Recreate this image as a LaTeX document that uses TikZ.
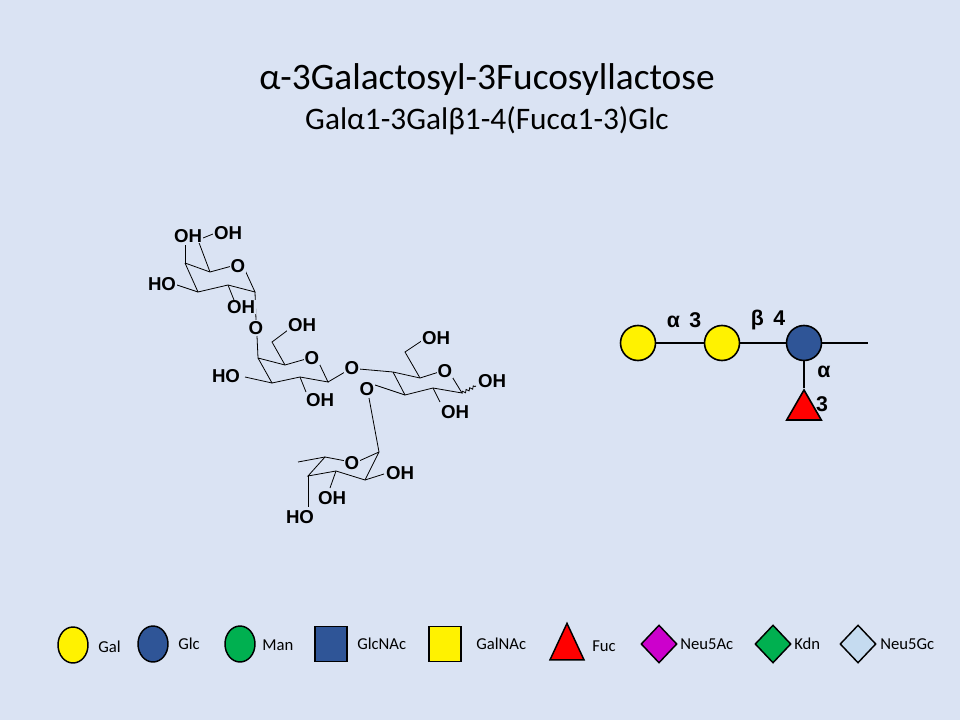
\documentclass[tikz,border=0pt]{standalone}
\usepackage{fontspec}
\setmainfont{Carlito}
\newfontfamily\arialb{Liberation Sans}[BoldFont=* Bold]
\usetikzlibrary{shapes.geometric,decorations.pathmorphing}
\definecolor{bg}{HTML}{DAE3F3}
\definecolor{glc}{HTML}{2F5597}
\definecolor{grn}{HTML}{00B050}
\definecolor{mag}{HTML}{CC00CC}
\definecolor{lb}{HTML}{C5DBF0}
\begin{document}
\begin{tikzpicture}[x=0.75pt,y=-0.75pt,
 atm/.style={font=\arialb\bfseries\fontsize{14}{14}\selectfont,inner sep=0.5pt,fill=bg},
 bd/.style={line width=0.6pt},
 sym/.style={draw=black,line width=1.2pt},
 lab/.style={font=\arialb\bfseries\fontsize{16}{16}\selectfont,inner sep=1pt},
 leg/.style={font=\fontsize{12.5}{14}\selectfont,anchor=west,inner sep=0pt},
 lk/.style={line width=1.6pt}]
\useasboundingbox (0,0) rectangle (960,720);
\fill[bg] (0,0) rectangle (960,720);
\node[font=\fontsize{28}{30}\selectfont] (t1) at (487,80) {α-3Galactosyl-3Fucosyllactose};
\node[font=\fontsize{23.5}{25}\selectfont] (t2) at (487,121) {Galα1-3Galβ1-4(Fucα1-3)Glc};
% ---- chemical structure: bonds
\begin{scope}[bd]
% Gal a
\draw (185,263)--(210,272)--(232,266) (244,268)--(255,292)--(228,285)--(198,292)--(185,263);
\draw (185,263)--(185,245);
\draw (210,272)--(198,240)--(213,234);
\draw (198,292)--(177,285);
\draw (228,285)--(234,300);
\draw (255,292)--(256,320);
% Gal b
\draw (258,358)--(285,365)--(306,359) (318,361)--(328,382)--(300,377)--(272,383)--(258,358);
\draw (258,358)--(257,336);
\draw (285,365)--(272,342)--(288,330);
\draw (272,383)--(245,377);
\draw (300,377)--(306,392);
\draw (328,382)--(345,372);
% Glc
\draw (359,369)--(393,372)--(420,378)--(439,372) (451,375)--(462,393)--(433,388)--(405,395)--(393,372);
\draw (420,378)--(405,352)--(423,340);
\draw (433,388)--(440,402);
\draw (405,395)--(375,385);
\draw[decorate,decoration={snake,amplitude=1pt,segment length=3pt}] (462,393)--(476,386);
% link to Fuc
\draw (369,398)--(379,452);
% Fuc
\draw (379,452)--(359,461) (346,461)--(325,457)--(308,476)--(336,471)--(365,480)--(379,452);
\draw (325,457)--(298,462);
\draw (308,476)--(308,507);
\draw (336,471)--(330,488);
\draw (365,480)--(384,474);
\end{scope}
% atoms
\node[atm] (o1) at (238,266) {O};
\node[atm] (a1) at (188,236) {OH};
\node[atm] (a2) at (228,233) {OH};
\node[atm] (a3) at (162,284) {HO};
\node[atm] (a4) at (241,307) {OH};
\node[atm] (o2) at (256,328) {O};
\node[atm] (o3) at (312,358) {O};
\node[atm] (a5) at (302,325) {OH};
\node[atm] (a6) at (226,376) {HO};
\node[atm] (a7) at (320,400) {OH};
\node[atm] (o4) at (352,368) {O};
\node[atm] (o5) at (445,371) {O};
\node[atm] (a8) at (436,338) {OH};
\node[atm] (a9) at (492,381) {OH};
\node[atm] (a10) at (455,412) {OH};
\node[atm] (o6) at (367,389) {O};
\node[atm] (o7) at (352,463) {O};
\node[atm] (a11) at (400,473) {OH};
\node[atm] (a12) at (332,498) {OH};
\node[atm] (a13) at (300,517) {HO};
% ---- symbol diagram
\coordinate (end) at (868,343);
\node[circle,sym,fill=yellow,minimum size=35pt*0.75,inner sep=0] (g1) at (638,343) {};
\node[circle,sym,fill=yellow,minimum size=35pt*0.75,inner sep=0] (g2) at (722,343) {};
\node[circle,sym,fill=glc,minimum size=35pt*0.75,inner sep=0] (g3) at (804,343) {};
\node[isosceles triangle,isosceles triangle apex angle=60,shape border rotate=90,sym,fill=red,minimum height=30pt*0.75,minimum width=34pt*0.75,inner sep=0] (f) at (804,410) {};
\draw[lk] (g1)--(g2) (g2)--(g3) (g3)--(end) (g3)--(f.apex);
\node[lab] (l1) at (684,320) {α\;\,3};
\node[lab] (l2) at (768,320) {β\;\,4};
\node[lab] (l3) at (824,372) {α};
\node[lab] (l4) at (822,404) {3};
% ---- legend
\tikzset{ls/.style={draw=black,line width=1.1pt,inner sep=0}}
\node[ellipse,ls,fill=yellow,minimum width=30pt*0.75,minimum height=36pt*0.75] (k1) at (73,645) {};
\node[leg] (k1t) at (98,647) {Gal};
\node[ellipse,ls,fill=glc,minimum width=30pt*0.75,minimum height=36pt*0.75] (k2) at (153,644) {};
\node[leg] (k2t) at (178,644) {Glc};
\node[ellipse,ls,fill=grn,minimum width=30pt*0.75,minimum height=36pt*0.75] (k3) at (240,644) {};
\node[leg] (k3t) at (262,645) {Man};
\node[rectangle,ls,fill=glc,minimum width=32pt*0.75,minimum height=35pt*0.75] (k4) at (331,644) {};
\node[leg] (k4t) at (357,644) {GlcNAc};
\node[rectangle,ls,fill=yellow,minimum width=32pt*0.75,minimum height=35pt*0.75] (k5) at (445,644) {};
\node[leg] (k5t) at (476,644) {GalNAc};
\node[isosceles triangle,isosceles triangle apex angle=50,shape border rotate=90,ls,fill=red,minimum height=34pt*0.75,minimum width=34pt*0.75] (k6) at (567,649) {};
\node[leg] (k6t) at (592,646) {Fuc};
\node[diamond,ls,fill=mag,minimum width=36pt*0.75,minimum height=38pt*0.75] (k7) at (659,644) {};
\node[leg] (k7t) at (680,644) {Neu5Ac};
\node[diamond,ls,fill=grn,minimum width=36pt*0.75,minimum height=38pt*0.75] (k8) at (773,644) {};
\node[leg] (k8t) at (794,644) {Kdn};
\node[diamond,ls,fill=lb,minimum width=36pt*0.75,minimum height=38pt*0.75] (k9) at (858,644) {};
\node[leg] (k9t) at (880,644) {Neu5Gc};
\end{tikzpicture}
\end{document}
